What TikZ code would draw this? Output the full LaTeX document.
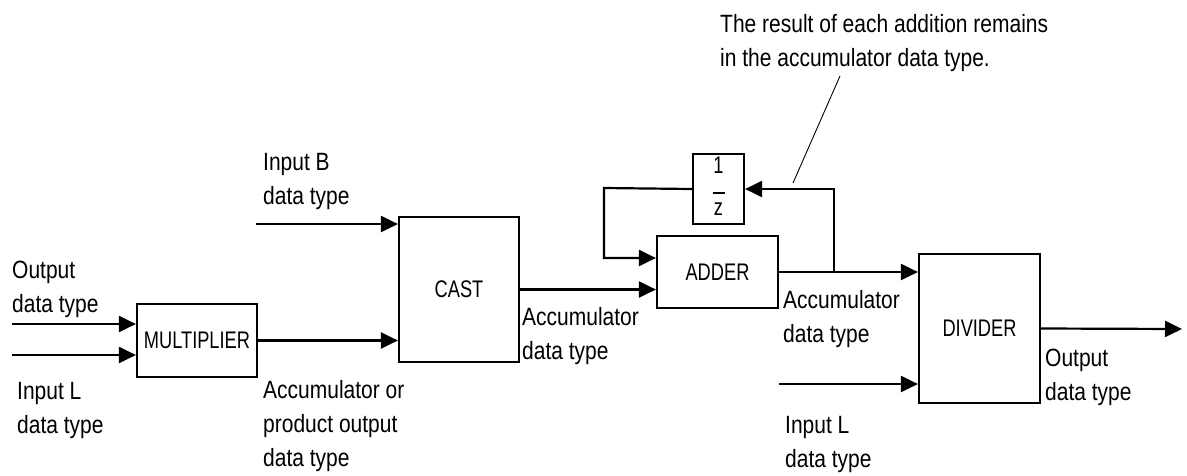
\documentclass[tikz,border=0pt]{standalone}
\usepackage{fontspec}
\setmainfont{Liberation Sans}[FakeStretch=0.84]
\newfontfamily\blkfont{Liberation Sans}[FakeStretch=0.76]
\usetikzlibrary{arrows.meta}
\begin{document}
\begin{tikzpicture}[x=1pt,y=-1pt,
  lbl/.style={font=\fontsize{25}{34}\selectfont, align=left, inner sep=0pt, anchor=base west},
  blk/.style={draw, line width=2.2pt, inner sep=0pt, font=\blkfont\fontsize{24}{28}\selectfont},
  wire/.style={line width=2.2pt},
  arr/.style={wire, -{Triangle[length=17pt,width=16pt]}}]
\useasboundingbox (0,0) rectangle (1187,475);
% blocks
\node[blk, minimum width=120pt, minimum height=73pt] (mult) at (197,340.5) {MULTIPLIER};
\node[blk, minimum width=120pt, minimum height=145pt] (cast) at (459,289.5) {CAST};
\node[blk, minimum width=121pt, minimum height=72pt] (adder) at (717.5,272) {ADDER};
\node[blk, minimum width=121pt, minimum height=149pt] (div) at (979.5,328.5) {DIVIDER};
\node[blk, minimum width=51pt, minimum height=70pt] (delay) at (718.5,189)
  {\begin{tabular}{@{}c@{}}1\\[-8pt]\rule{12pt}{1.6pt}\\[-6pt]z\end{tabular}};
% free ends
\coordinate (o1) at (12,324);
\coordinate (o2) at (12,355);
\coordinate (ib) at (256,224);
\coordinate (il) at (779,384);
\coordinate (out) at (1182,329);
\coordinate (br) at (834,272);
\coordinate (lp) at (604,188);
\coordinate (an1) at (840,76);
\coordinate (an2) at (793,183);
% connectors
\draw[arr] (o1) -- (o1 -| mult.west);
\draw[arr] (o2) -- (o2 -| mult.west);
\draw[arr] (ib) -- (ib -| cast.west);
\draw[arr] (mult.east) -- (mult.east -| cast.west);
\draw[arr] (cast.east) -- (cast.east -| adder.west);
\draw[arr] (adder.east) -- (adder.east -| div.west);
\draw[arr] (br) -- (br |- delay.east) -- (delay.east);
\draw[arr] (delay.west) -- (lp) -- (lp |- 0,258) -- (adder.west |- 0,258);
\draw[arr] (il) -- (il -| div.west);
\draw[arr] (div.east) -- (out);
\draw[line width=0.9pt] (an1) -- (an2);
% labels (anchor = baseline of last line)
\node[lbl] (t1) at (12,312) {Output\\data type};
\node[lbl] (t2) at (17,433) {Input L\\data type};
\node[lbl] (t3) at (263,204) {Input B\\data type};
\node[lbl] (t4) at (263,466) {Accumulator or\\product output\\data type};
\node[lbl] (t5) at (522,359) {Accumulator\\data type};
\node[lbl] (t6) at (783,342) {Accumulator\\data type};
\node[lbl] (t7) at (1045,400) {Output\\data type};
\node[lbl] (t8) at (785,467) {Input L\\data type};
\node[lbl] (t9) at (720,66) {The result of each addition remains\\in the accumulator data type.};
\end{tikzpicture}
\end{document}
